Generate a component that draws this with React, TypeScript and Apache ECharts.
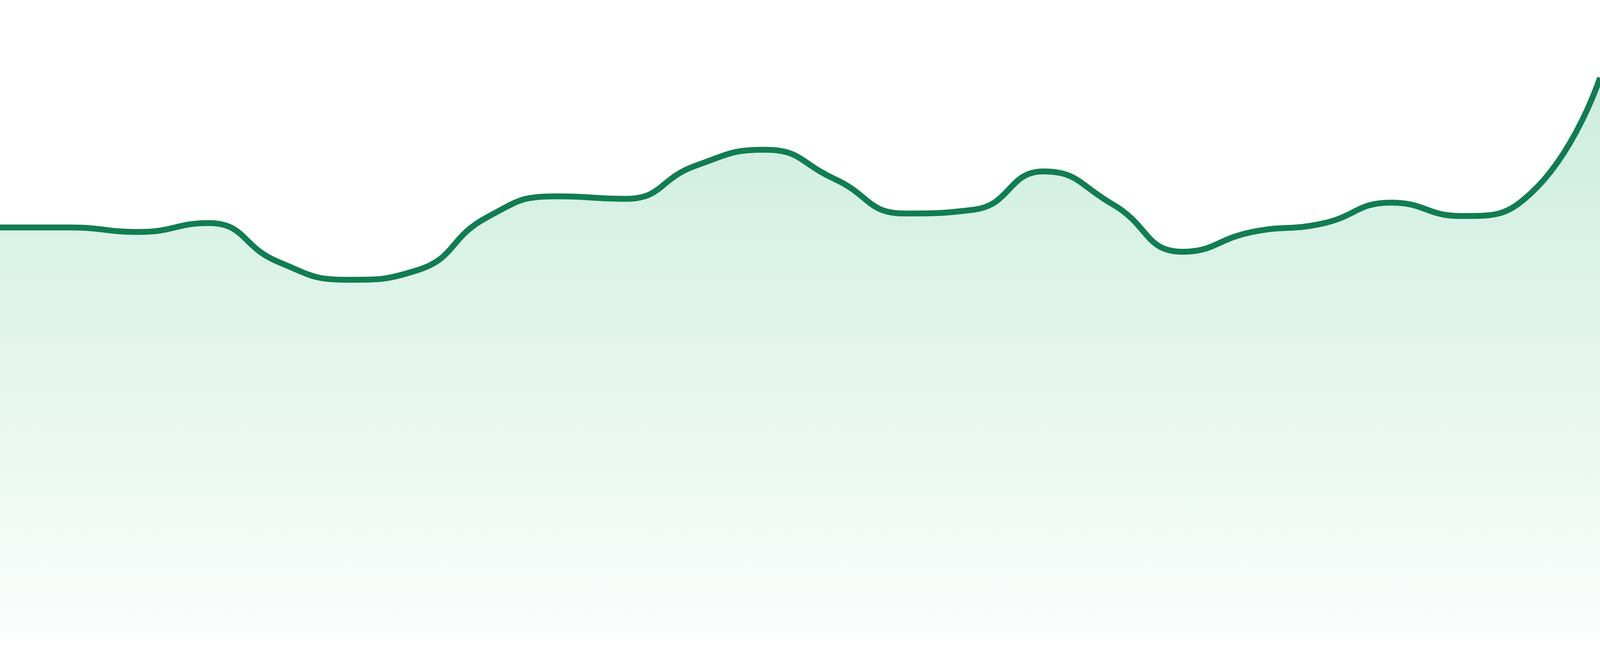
import React, { useEffect, useRef } from 'react';
import * as echarts from 'echarts';

// No visible axes in the reference: 24 evenly spaced samples, values on a 0-100 scale
const days = [
    'd01', 'd02', 'd03', 'd04', 'd05', 'd06', 'd07', 'd08',
    'd09', 'd10', 'd11', 'd12', 'd13', 'd14', 'd15', 'd16',
    'd17', 'd18', 'd19', 'd20', 'd21', 'd22', 'd23', 'd24',
];

const values = [
    64.3, 64.3, 63.6, 65.0, 58.9, 56.1, 57.6, 65.9,
    69.2, 68.8, 74.0, 76.5, 71.9, 66.5, 67.1, 73.1,
    67.9, 60.5, 63.6, 64.9, 68.2, 66.1, 69.6, 87.8,
];

const yMin = 0;
const yMax = 100;

const lineColor = '#127c52';
const fillTop = '#b6e5d0';
const fillBottom = '#fafdfb';

const App: React.FC = () => {
    const chartRef = useRef<HTMLDivElement>(null);

    useEffect(() => {
        if (!chartRef.current) return;
        const chart = echarts.init(chartRef.current, undefined, { renderer: 'svg' });
        // reference frame is 1680px tall; keep stroke relative to height
        const k = (chartRef.current.clientHeight || 1680) / 1680;

        const option: echarts.EChartsOption = {
            animation: false,
            grid: { left: 0, right: 0, top: 0, bottom: '2.857%' },
            xAxis: {
                type: 'category',
                data: days,
                boundaryGap: false,
                show: false,
            },
            yAxis: {
                type: 'value',
                min: yMin,
                max: yMax,
                show: false,
            },
            series: [
                {
                    type: 'line',
                    data: values,
                    smooth: true,
                    symbol: 'none',
                    lineStyle: { color: lineColor, width: 15 * k },
                    areaStyle: {
                        color: new echarts.graphic.LinearGradient(0, 0, 0, 1, [
                            { offset: 0, color: fillTop },
                            { offset: 1, color: fillBottom },
                        ]),
                    },
                },
            ],
        };

        chart.setOption(option);
        return () => chart.dispose();
    }, []);

    return (
        <div
            ref={chartRef}
            style={{ position: 'fixed', left: 0, top: 0, width: '100vw', height: '100vh', background: '#ffffff' }}
        />
    );
};

export default App;
